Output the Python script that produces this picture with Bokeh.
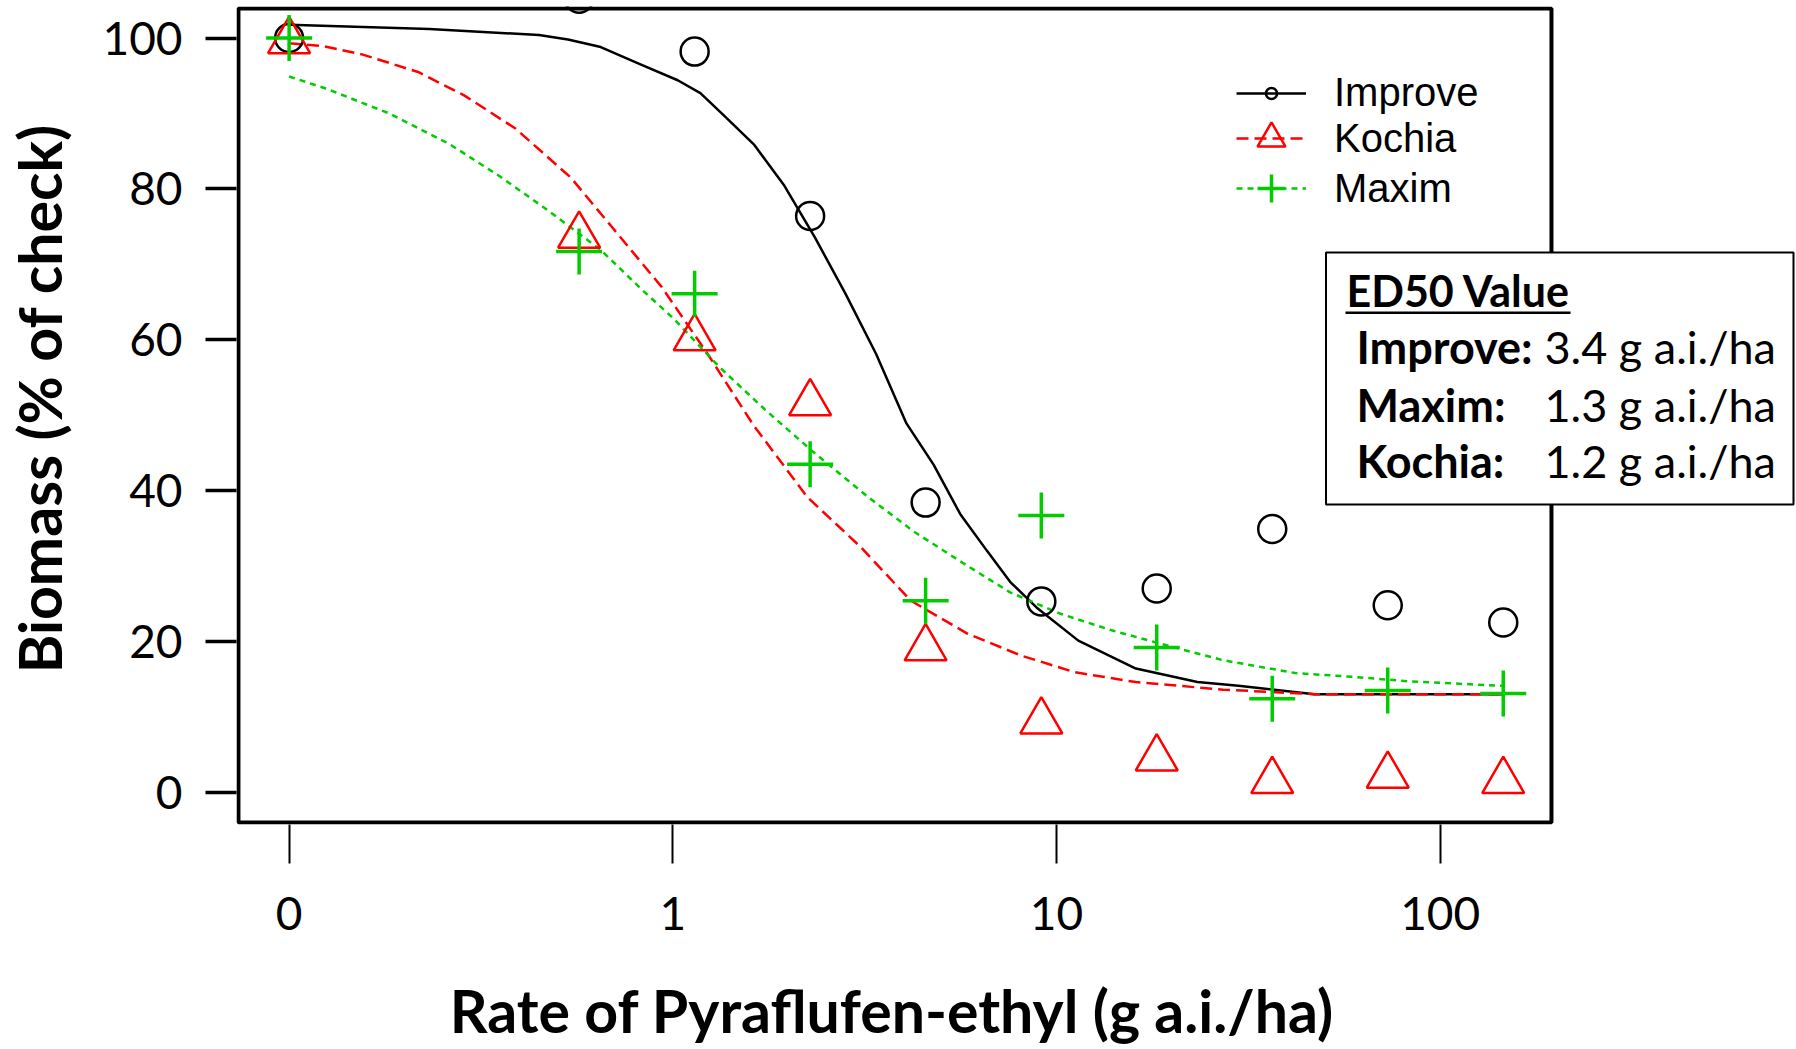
import math
from bokeh.plotting import figure
from bokeh.models import (Range1d, FixedTicker, Legend, LegendItem, Label,
                          BoxAnnotation, ColumnDataSource, LogAxis, LinearAxis)
from bokeh.embed import file_html
from bokeh.resources import INLINE

# ---- data ----
rates = [0.1, 0.57, 1.14, 2.28, 4.56, 9.13, 18.25, 36.5, 73, 146]   # 0.1 plotted as "0"
improve = [100.0, 105.2, 98.2, 76.4, 38.4, 25.3, 27.0, 34.9, 24.8, 22.5]
kochia = [99.6, 73.8, 60.2, 51.6, 19.1, 9.4, 4.5, 1.5, 2.2, 1.5]
maxim = [100.0, 71.7, 66.1, 43.5, 25.4, 36.7, 19.2, 12.4, 13.5, 13.1]

improve_fit_x = [0.1, 0.232, 0.448, 0.533, 0.649, 0.815, 1.03, 1.18, 1.354, 1.626,
                 1.954, 2.344, 2.818, 3.388, 4.064, 4.786, 5.61, 6.59, 7.57, 8.87,
                 11.4, 16.1, 23.3, 29.8, 47.0, 146.0]
improve_fit_y = [101.75, 101.2, 100.4, 99.8, 98.8, 96.6, 94.4, 92.7, 89.8, 85.9,
                 80.4, 73.6, 66.1, 58.1, 48.9, 43.4, 36.9, 32.0, 27.9, 24.5,
                 20.1, 16.4, 14.6, 14.1, 13.0, 13.0]

kochia_fit_x = [0.1, 0.1236, 0.1556, 0.2168, 0.2858, 0.389, 0.542, 0.695, 0.935,
                1.233, 1.626, 2.244, 3.09, 4.17, 5.87, 8.11, 11.17, 16.1, 27.2,
                47.0, 146.0]
kochia_fit_y = [99.3, 98.9, 97.8, 95.5, 92.4, 88.0, 81.5, 74.9, 67.0,
                58.1, 48.6, 39.1, 32.5, 25.4, 21.0, 18.1, 15.9, 14.6, 13.6,
                13.0, 13.0]

maxim_fit_x = [0.1, 0.1247, 0.1824, 0.2606, 0.3508, 0.4624, 0.649, 0.836, 1.005,
               1.321, 1.742, 2.35, 3.236, 4.266, 5.74, 7.57, 10.19, 14.06, 20.28,
               27.16, 41.9, 59.0, 83.0, 146.0]
maxim_fit_y = [94.9, 93.3, 90.0, 86.0, 81.8, 77.5, 71.9, 66.5, 62.8,
               56.4, 50.7, 44.9, 39.1, 34.5, 30.3, 26.5, 23.7, 21.4, 19.2,
               17.5, 15.8, 15.3, 14.7, 14.1]

x_ticks = [0.1, 1, 10, 100]
x_tick_labels = ["0", "1", "10", "100"]
y_ticks = [0, 20, 40, 60, 80, 100]

x_title = "Rate of Pyraflufen-ethyl (g a.i./ha)"
y_title = "Biomass (% of check)"
ed50_title = "ED50 Value"
ed50_rows = [("Improve:", "3.4 g a.i./ha"),
             ("Maxim:", "1.3 g a.i./ha"),
             ("Kochia:", "1.2 g a.i./ha")]

BLACK = "#000000"
RED = "#FF0000"
GREEN = "#00CC00"

# ---- layout constants ----
BOX_X0, BOX_X1 = 0.07379, 195.0          # visible plot box
BOX_Y0, BOX_Y1 = -4.018, 103.91
X_RANGE = (0.07293, 848.5)               # drawing area reaches the page's right edge
Y_RANGE = (-4.283, 104.18)
X_TITLE_AT = 3.7266                      # centre of the visible box (log scale)
Y_TITLE_AT = 52.2

p = figure(width=1796, height=1049, x_axis_type="log",
           x_range=Range1d(*X_RANGE), y_range=Range1d(*Y_RANGE),
           output_backend="svg", toolbar_location=None,
           min_border_left=236, min_border_right=0,
           min_border_top=6, min_border_bottom=225)
p.background_fill_color = "white"
p.border_fill_color = "white"
p.grid.visible = False
p.outline_line_color = None

# curves
l_imp = p.line(improve_fit_x, improve_fit_y, line_color=BLACK, line_width=2.5)
l_koc = p.line(kochia_fit_x, kochia_fit_y, line_color=RED, line_width=2.5, line_dash="12 6")
l_max = p.line(maxim_fit_x, maxim_fit_y, line_color=GREEN, line_width=2.5, line_dash="6 5")

# points
src = ColumnDataSource(dict(rate=rates, improve=improve, kochia=kochia, maxim=maxim))
s_imp = p.scatter("rate", "improve", source=src, marker="circle", size=28,
                  fill_color=None, line_color=BLACK, line_width=2.5)
s_koc = p.scatter("rate", "kochia", source=src, marker="triangle", size=42,
                  fill_color=None, line_color=RED, line_width=2.5)
s_max = p.scatter("rate", "maxim", source=src, marker="cross", size=46,
                  line_color=GREEN, line_width=3.5)

# plot box outline
p.add_layout(BoxAnnotation(left=BOX_X0, right=BOX_X1, bottom=BOX_Y0, top=BOX_Y1,
                           fill_color=None, line_color=BLACK, line_alpha=1, line_width=4))

# axes
xa = p.xaxis[0]
xa.ticker = FixedTicker(ticks=x_ticks)
xa.major_label_overrides = {t: lab for t, lab in zip(x_ticks, x_tick_labels)}
xa.minor_tick_line_color = None
xa.axis_line_color = None
xa.major_tick_in = 0
xa.major_tick_out = 39
xa.major_tick_line_width = 2
xa.major_tick_line_color = BLACK
xa.major_label_standoff = 33
xa.major_label_text_font = "Lato"
xa.major_label_text_font_size = "46px"
xa.major_label_text_color = BLACK

ya = p.yaxis[0]
ya.ticker = FixedTicker(ticks=y_ticks)
ya.minor_tick_line_color = None
ya.axis_line_color = None
ya.major_tick_in = 0
ya.major_tick_out = 31
ya.major_tick_line_width = 3.5
ya.major_tick_line_color = BLACK
ya.major_label_standoff = 23
ya.major_label_text_font = "Lato"
ya.major_label_text_font_size = "46px"
ya.major_label_text_color = BLACK

# axis titles, centred on the visible box
x_title_axis = LogAxis(ticker=FixedTicker(ticks=[X_TITLE_AT]),
                       major_label_overrides={X_TITLE_AT: x_title},
                       major_tick_in=0, major_tick_out=0, axis_line_color=None,
                       minor_tick_line_color=None, major_tick_line_color=None,
                       major_label_standoff=42, major_label_text_font="Lato",
                       major_label_text_font_style="bold",
                       major_label_text_font_size="59px", major_label_text_color=BLACK)
p.add_layout(x_title_axis, "below")
y_title_axis = LinearAxis(ticker=FixedTicker(ticks=[Y_TITLE_AT]),
                          major_label_overrides={Y_TITLE_AT: y_title},
                          major_label_orientation="parallel",
                          major_tick_in=0, major_tick_out=0, axis_line_color=None,
                          minor_tick_line_color=None, major_tick_line_color=None,
                          major_label_standoff=24, major_label_text_font="Lato",
                          major_label_text_font_style="bold",
                          major_label_text_font_size="59px", major_label_text_color=BLACK)
p.add_layout(y_title_axis, "left")

# legends (one per entry so each keeps its own glyph size)
def make_legend(label, renderers, gh, loc):
    return Legend(items=[LegendItem(label=label, renderers=renderers)], location=loc,
                  glyph_width=70, glyph_height=gh, label_height=gh, padding=0, margin=0,
                  spacing=0, label_standoff=28, border_line_color=None,
                  background_fill_alpha=0, label_text_font="Liberation Sans",
                  label_text_font_size="40px", label_text_color=BLACK)

p.add_layout(make_legend("Improve", [l_imp, s_imp], 28, (1000, 733 - 24)))
p.add_layout(make_legend("Kochia", [l_koc, s_koc], 70, (1000, 686 - 35)))
p.add_layout(make_legend("Maxim", [l_max, s_max], 70, (1000, 636 - 35)))

# ED50 box
p.add_layout(BoxAnnotation(left=1089.5, right=1557, bottom=320, top=572,
                           left_units="screen", right_units="screen",
                           bottom_units="screen", top_units="screen",
                           fill_color="white", fill_alpha=1, line_color=BLACK,
                           line_alpha=1, line_width=2, level="overlay"))
DY = 18.5
p.add_layout(Label(x=1110, y=516 + DY, x_units="screen", y_units="screen", text=ed50_title,
                   text_font="Lato", text_font_style="bold", text_font_size="43px",
                   text_baseline="alphabetic", text_color=BLACK, level="overlay"))
p.add_layout(BoxAnnotation(left=1109, right=1334, bottom=510.5, top=513,
                           left_units="screen", right_units="screen",
                           bottom_units="screen", top_units="screen",
                           fill_color=BLACK, fill_alpha=1, line_color=None, level="overlay"))
row_y = [459, 401, 345]
for (name, val), yy in zip(ed50_rows, row_y):
    p.add_layout(Label(x=1120, y=yy + DY, x_units="screen", y_units="screen", text=name,
                       text_font="Lato", text_font_style="bold", text_font_size="45px",
                       text_baseline="alphabetic", text_color=BLACK, level="overlay"))
    p.add_layout(Label(x=1308, y=yy + DY, x_units="screen", y_units="screen", text=val,
                       text_font="Lato", text_font_style="normal", text_font_size="45px",
                       text_baseline="alphabetic", text_color=BLACK, level="overlay"))

open("out.html", "w").write(file_html(p, INLINE))
